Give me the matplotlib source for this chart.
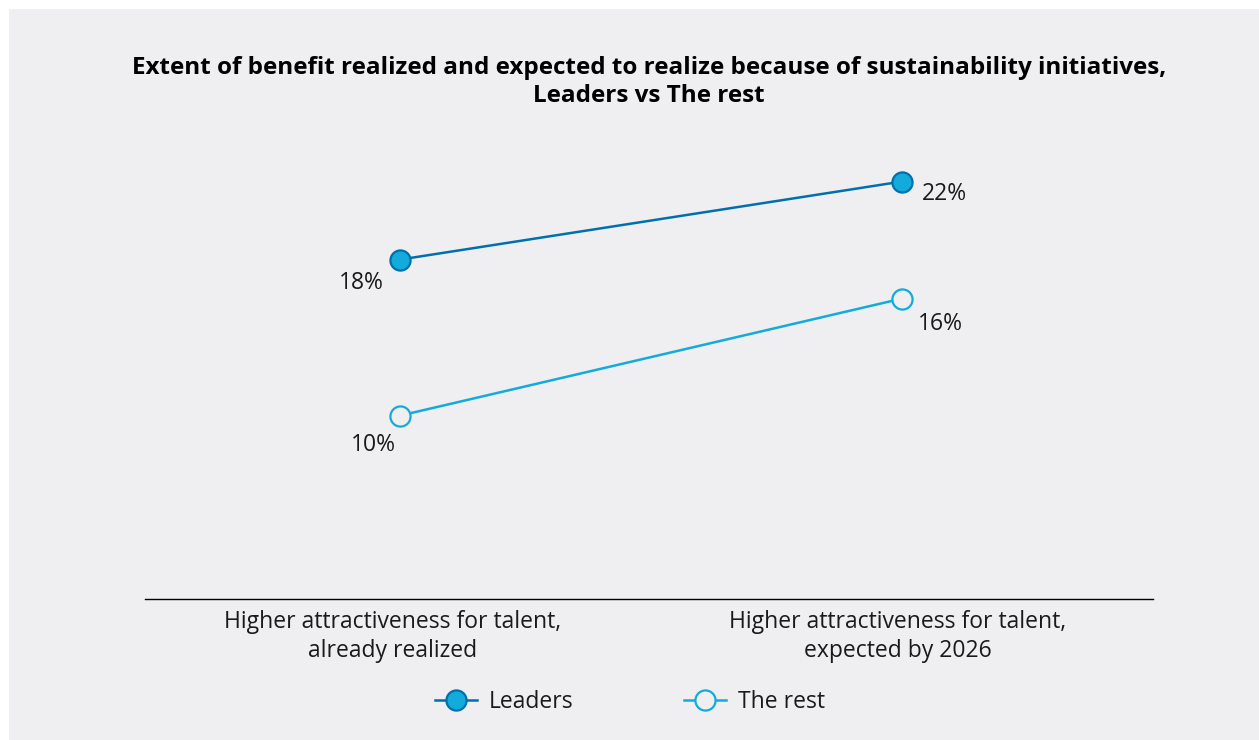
import matplotlib
matplotlib.use("Agg")
import matplotlib.pyplot as plt
import matplotlib.transforms as mtransforms
from matplotlib.patches import Rectangle

categories = ["Higher attractiveness for talent,\nalready realized",
              "Higher attractiveness for talent,\nexpected by 2026"]
leaders = [18, 22]
the_rest = [10, 16]
series_names = ["Leaders", "The rest"]
title = ("Extent of benefit realized and expected to realize because of sustainability initiatives,\n"
         "Leaders vs The rest")

BG = "#EFEFF1"
DARK = "#0070AD"
LIGHT = "#12ABDB"
TXT = "#1a1a1a"
W, H = 1259, 740
FS = 16.5

plt.rcParams['font.family'] = ['Open Sans', 'DejaVu Sans']

fig = plt.figure(figsize=(W / 100, H / 100), dpi=100, facecolor="white")
fig.patches.append(Rectangle((9 / W, 0), 1 - 9 / W, 1 - 9 / H, transform=fig.transFigure,
                             facecolor=BG, edgecolor="none", zorder=-10))

ax = fig.add_axes([145 / W, 1 - 599 / H, (1153 - 145) / W, (599 - 123) / H])
ax.set_facecolor("none")

x = list(range(len(categories)))
ax.plot(x, leaders, color=DARK, lw=1.8, marker="o", ms=14.5, mfc=LIGHT, mec=DARK, mew=1.6,
        label=series_names[0], zorder=3)
ax.plot(x, the_rest, color=LIGHT, lw=1.8, marker="o", ms=14.5, mfc=BG, mec=LIGHT, mew=1.6,
        label=series_names[1], zorder=3)

offs_leaders = [(-39, -23), (42, -12)]
offs_rest = [(-27, -29), (38, -25)]
for i, v in enumerate(leaders):
    ax.annotate(f"{v}%", (x[i], v), xytext=offs_leaders[i], textcoords="offset pixels",
                ha="center", va="center", fontsize=FS, color=TXT)
for i, v in enumerate(the_rest):
    ax.annotate(f"{v}%", (x[i], v), xytext=offs_rest[i], textcoords="offset pixels",
                ha="center", va="center", fontsize=FS, color=TXT)

ax.set_xlim(-0.508, 1.5)
ax.set_ylim(0.6, 25)
for s in ["top", "right", "left"]:
    ax.spines[s].set_visible(False)
ax.spines["bottom"].set_color("black")
ax.spines["bottom"].set_linewidth(1.0)
ax.set_yticks([])
ax.set_xticks(x)
ax.set_xticklabels(categories, fontsize=FS, color=TXT, linespacing=1.27)
ax.tick_params(axis="x", length=0, pad=8)
for lbl, dx in zip(ax.get_xticklabels(), [-7, -4]):
    lbl.set_transform(lbl.get_transform() + mtransforms.Affine2D().translate(dx, 0))

fig.text(649 / W, 1 - 82 / H, title, ha="center", va="center", fontsize=17.5,
         fontweight="bold", color="black", linespacing=1.22)

fig.legend(loc="center", bbox_to_anchor=(630 / W, 1 - 702 / H), ncol=2, frameon=False,
           fontsize=FS, handlelength=1.8, columnspacing=4.85, handletextpad=0.52,
           labelcolor=TXT)

fig.savefig("out.png", dpi=100, facecolor="white")
